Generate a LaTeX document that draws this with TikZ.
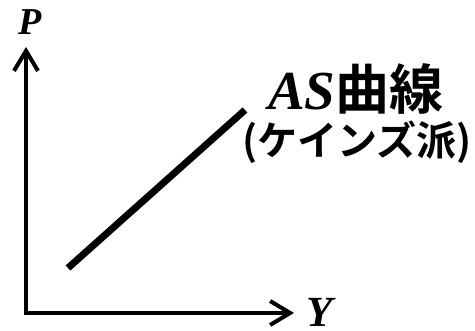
\documentclass[tikz,border=0pt]{standalone}
\usepackage{fontspec}
\setmainfont{Liberation Serif}
\newfontfamily\jpfont[BoldFont={Noto Sans CJK JP Bold}]{Noto Sans CJK JP}
\usetikzlibrary{arrows.meta}
\tikzset{
  axis/.style={line width=4pt, line cap=butt, -{Straight Barb[length=20pt,width=24pt]}},
  curve/.style={line width=7pt, line cap=butt},
  lbl/.style={inner sep=0pt, anchor=base},
}
\begin{document}
\begin{tikzpicture}[x=1pt,y=-1pt]
\useasboundingbox (0,0) rectangle (475,331);
\coordinate (O) at (26,313);
\coordinate (ytop) at (26,47);
\coordinate (xend) at (294,313);
\draw[axis] (O) -- (ytop);
\draw[axis] ([xshift=-2pt]O) -- (xend);
\node[lbl, font=\fontsize{38}{38}\selectfont\bfseries\itshape] (P) at (30,35) {P};
\node[lbl, font=\fontsize{43}{43}\selectfont\bfseries\itshape] (Y) at (320,327) {Y};
\coordinate (c1) at (68,268);
\coordinate (c2) at (245,110);
\draw[curve] (c1) -- (c2);
\node[inner sep=0pt, anchor=base west] (as) at (268,110)
  {\fontsize{55}{55}\selectfont\bfseries\itshape AS\jpfont\upshape\bfseries\fontsize{54}{54}\selectfont 曲線};
\node[inner sep=0pt, anchor=base] (kz) at (357,156)
  {\jpfont\bfseries\fontsize{40}{40}\selectfont (ケインズ派)};
\end{tikzpicture}
\end{document}
